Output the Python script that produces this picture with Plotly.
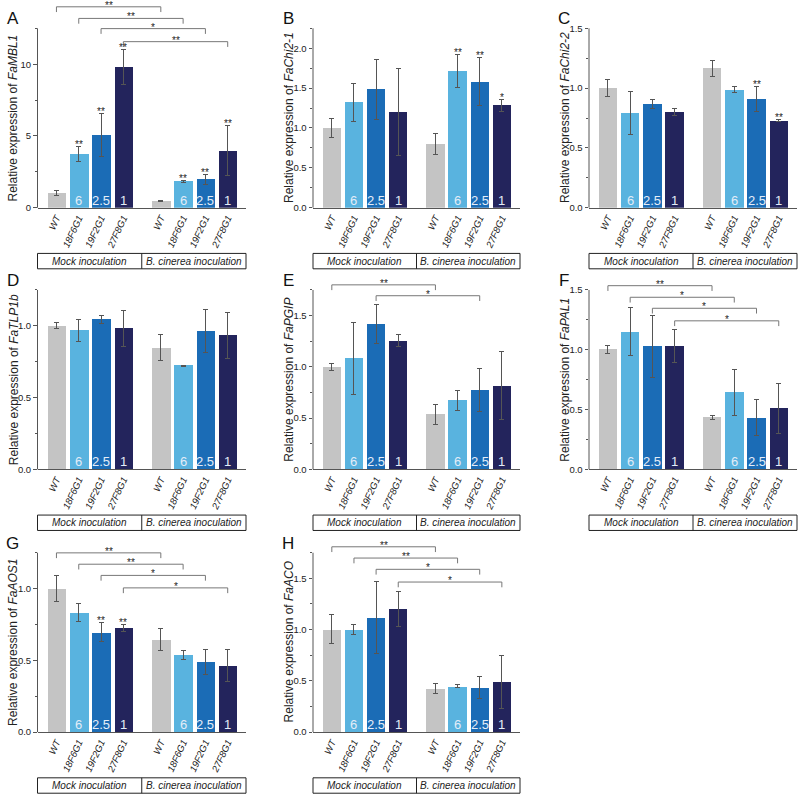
import plotly.graph_objects as go

# ---------------- data ----------------
CATEGORIES = ["WT", "18F6G1", "19F2G1", "27F8G1", "WT", "18F6G1", "19F2G1", "27F8G1"]
POSITIONS = [0, 1, 2, 3, 4.68, 5.68, 6.68, 7.68]
BAR_LABELS = ["", "6", "2.5", "1", "", "6", "2.5", "1"]
GROUPS = ["Mock inoculation", "B. cinerea inoculation"]
LETTERS = ["A", "B", "C", "D", "E", "F", "G", "H"]
GENES = ["FaMBL1", "FaChi2-1", "FaChi2-2", "FaTLP1b", "FaPGIP", "FaPAL1", "FaAOS1", "FaACO"]

A_MEAN = [1.02, 3.75, 5.05, 9.81, 0.46, 1.83, 1.97, 3.98]
A_ERR = [0.15, 0.5, 1.5, 1.2, 0.05, 0.05, 0.35, 1.75]
B_MEAN = [1.0, 1.32, 1.485, 1.2, 0.80, 1.718, 1.58, 1.282]
B_ERR = [0.125, 0.24, 0.38, 0.54, 0.135, 0.205, 0.3, 0.08]
C_MEAN = [1.0, 0.794, 0.866, 0.80, 1.165, 0.985, 0.91, 0.728]
C_ERR = [0.07, 0.18, 0.04, 0.03, 0.07, 0.025, 0.105, 0.01]
D_MEAN = [1.0, 0.968, 1.044, 0.984, 0.847, 0.722, 0.963, 0.935]
D_ERR = [0.02, 0.075, 0.025, 0.125, 0.09, 0.005, 0.15, 0.16]
E_MEAN = [0.996, 1.08, 1.416, 1.254, 0.537, 0.672, 0.77, 0.815]
E_ERR = [0.035, 0.35, 0.19, 0.06, 0.1, 0.095, 0.21, 0.33]
F_MEAN = [1.0, 1.15, 1.028, 1.033, 0.436, 0.644, 0.43, 0.508]
F_ERR = [0.035, 0.2, 0.26, 0.14, 0.015, 0.19, 0.15, 0.21]
G_MEAN = [1.0, 0.832, 0.696, 0.726, 0.647, 0.537, 0.488, 0.465]
G_ERR = [0.09, 0.063, 0.065, 0.025, 0.075, 0.03, 0.09, 0.11]
H_MEAN = [1.003, 1.003, 1.117, 1.2, 0.425, 0.448, 0.435, 0.49]
H_ERR = [0.14, 0.05, 0.35, 0.17, 0.045, 0.015, 0.105, 0.26]

A_STARS = ["", "**", "**", "**", "", "**", "**", "**"]
B_STARS = ["", "", "", "", "", "**", "**", "*"]
C_STARS = ["", "", "", "", "", "", "**", "**"]
D_STARS = [""] * 8
E_STARS = [""] * 8
F_STARS = [""] * 8
G_STARS = ["", "", "**", "**", "", "", "", ""]
H_STARS = [""] * 8

# brackets: (from bar, to bar, level, label)
A_BRACKETS = [(0, 4, 14.0, "**"), (1, 5, 13.19, "**"), (2, 6, 12.48, "*"), (3, 7, 11.57, "**")]
B_BRACKETS = []
C_BRACKETS = []
D_BRACKETS = []
E_BRACKETS = [(0, 4, 1.80, "**"), (2, 6, 1.694, "*")]
F_BRACKETS = [(0, 4, 1.536, "**"), (1, 5, 1.439, "*"), (2, 6, 1.347, "*"), (3, 7, 1.242, "*")]
G_BRACKETS = [(0, 4, 1.249, "**"), (1, 5, 1.17, "**"), (2, 6, 1.092, "*"), (3, 7, 1.005, "*")]
H_BRACKETS = [(0, 4, 1.808, "**"), (1, 5, 1.698, "**"), (2, 6, 1.588, "*"), (3, 7, 1.464, "*")]

AXIS_TOP = [12.5, 2.25, 1.5, 1.25, 1.75, 1.5, 1.25, 1.75]
MAJOR_TICKS = [[0, 5, 10], [0, 0.5, 1.0, 1.5, 2.0], [0, 0.5, 1.0, 1.5], [0, 0.5, 1.0],
               [0, 0.5, 1.0, 1.5], [0, 0.5, 1.0, 1.5], [0, 0.5, 1.0], [0, 0.5, 1.0, 1.5]]
MINOR_TICKS = [[2.5, 7.5, 12.5], [0.25, 0.75, 1.25, 1.75, 2.25], [0.25, 0.75, 1.25],
               [0.25, 0.75, 1.25], [0.25, 0.75, 1.25, 1.75], [0.25, 0.75, 1.25],
               [0.25, 0.75, 1.25], [0.25, 0.75, 1.25, 1.75]]

MEANS = [A_MEAN, B_MEAN, C_MEAN, D_MEAN, E_MEAN, F_MEAN, G_MEAN, H_MEAN]
ERRS = [A_ERR, B_ERR, C_ERR, D_ERR, E_ERR, F_ERR, G_ERR, H_ERR]
STARS = [A_STARS, B_STARS, C_STARS, D_STARS, E_STARS, F_STARS, G_STARS, H_STARS]
BRACKETS = [A_BRACKETS, B_BRACKETS, C_BRACKETS, D_BRACKETS, E_BRACKETS, F_BRACKETS, G_BRACKETS, H_BRACKETS]

# ---------------- style / layout geometry ----------------
COLORS = ["#c4c4c4", "#59b3df", "#1b6cb6", "#23245c"] * 2
W, H = 800, 801
COL_L = [37.5, 313, 589]
COL_R = [246, 520, 797]
ROW_ZERO = [209, 472.3, 736.7]
ROW_TOP = [0, 272, 537]
AXIS_LEN = 180.5
XRANGE = [-0.85, 8.5]
FONT = "Liberation Sans, Arial, sans-serif"
AXC = "#555555"
TXT = "#222222"


def px(x):
    return x / W


def py(y):
    return 1 - y / H


fig = go.Figure()
shapes = []
annotations = []

for k in range(8):
    r, c = divmod(k, 3)
    sfx = "" if k == 0 else str(k + 1)
    xa, ya = "x" + sfx, "y" + sfx
    L, R, Z, T = COL_L[c], COL_R[c], ROW_ZERO[r], ROW_TOP[r]
    ppu = AXIS_LEN / AXIS_TOP[k]
    ymax = (Z - T) / ppu

    fig.add_trace(go.Bar(
        x=POSITIONS, y=MEANS[k], width=0.83,
        marker=dict(color=COLORS, line=dict(width=0)),
        error_y=dict(type="data", array=ERRS[k], color=AXC, thickness=1, width=2.5),
        xaxis=xa, yaxis=ya, showlegend=False, hoverinfo="skip",
    ))

    fmt = "d" if k == 0 else ".1f"
    fig.layout["xaxis" + sfx] = dict(
        domain=[px(L), px(R)], anchor=ya, range=XRANGE,
        showline=True, linecolor=AXC, linewidth=1, ticks="",
        showgrid=False, zeroline=False,
        tickmode="array", tickvals=POSITIONS,
        ticktext=["<i>%s</i>" % s for s in CATEGORIES],
        tickangle=-65, tickfont=dict(family=FONT, size=9.5, color=TXT),
    )
    fig.layout["yaxis" + sfx] = dict(
        domain=[py(Z), py(T)], anchor=xa, range=[0, ymax],
        showline=False, showgrid=False, zeroline=False,
        ticks="outside", ticklen=3.5, tickcolor=AXC, tickwidth=1,
        tickmode="array", tickvals=MAJOR_TICKS[k], tickformat=fmt,
        tickfont=dict(family=FONT, size=9.5, color=TXT),
        minor=dict(tickmode="array", tickvals=MINOR_TICKS[k], ticks="outside",
                   ticklen=2, tickcolor=AXC, tickwidth=1),
    )

    # y axis line only up to the axis top
    shapes.append(dict(type="line", xref="paper", yref="paper",
                       x0=px(L), x1=px(L), y0=py(Z), y1=py(Z - AXIS_LEN),
                       line=dict(color=AXC, width=1)))

    # bar inner labels
    for p, lab in zip(POSITIONS, BAR_LABELS):
        if lab:
            annotations.append(dict(x=p, y=0, xref=xa, yref=ya, text=lab,
                                    showarrow=False, xanchor="center", yanchor="bottom", yshift=-2,
                                    font=dict(family=FONT, size=13, color="#e4edf8")))
    # significance stars on bars
    for p, m, e, s in zip(POSITIONS, MEANS[k], ERRS[k], STARS[k]):
        if s:
            annotations.append(dict(x=p, y=m + e, xref=xa, yref=ya, text=s,
                                    showarrow=False, xanchor="center", yanchor="bottom", yshift=-5.5,
                                    font=dict(family=FONT, size=10, color=TXT)))
    # brackets
    leg = 5.3 / ppu
    for i, j, lvl, lab in BRACKETS[k]:
        x0, x1 = POSITIONS[i], POSITIONS[j]
        shapes.append(dict(type="path", xref=xa, yref=ya,
                           path="M %f,%f L %f,%f L %f,%f L %f,%f" % (x0, lvl - leg, x0, lvl, x1, lvl, x1, lvl - leg),
                           line=dict(color="#777777", width=1)))
        annotations.append(dict(x=(x0 + x1) / 2, y=lvl, xref=xa, yref=ya, text=lab,
                                showarrow=False, xanchor="center", yanchor="bottom", yshift=-6,
                                font=dict(family=FONT, size=10, color=TXT)))

    # panel letter
    annotations.append(dict(x=px(L - 25), y=py(Z - 190), xref="paper", yref="paper",
                            text=LETTERS[k], showarrow=False, xanchor="center", yanchor="middle",
                            font=dict(family=FONT, size=17, color="#111111")))
    # y title
    annotations.append(dict(x=px(L - 24), y=py(Z - AXIS_LEN / 2), xref="paper", yref="paper",
                            text="Relative expression of <i>%s</i>" % GENES[k], textangle=-90,
                            showarrow=False, xanchor="center", yanchor="middle",
                            font=dict(family=FONT, size=12, color=TXT)))

    # group box
    bt, bb = Z + 46, Z + 61.5
    mid = (L + R) / 2
    shapes.append(dict(type="rect", xref="paper", yref="paper",
                       x0=px(L), x1=px(R), y0=py(bb), y1=py(bt),
                       line=dict(color="#222222", width=1)))
    shapes.append(dict(type="line", xref="paper", yref="paper",
                       x0=px(mid), x1=px(mid), y0=py(bb), y1=py(bt),
                       line=dict(color="#222222", width=1)))
    for gx, g in zip([(L + mid) / 2, (mid + R) / 2], GROUPS):
        annotations.append(dict(x=px(gx), y=py((bt + bb) / 2), xref="paper", yref="paper",
                                text="<i>%s</i>" % g, showarrow=False,
                                xanchor="center", yanchor="middle",
                                font=dict(family=FONT, size=10, color=TXT)))

fig.update_layout(
    width=W, height=H, margin=dict(l=0, r=0, t=0, b=0),
    paper_bgcolor="white", plot_bgcolor="white",
    shapes=shapes, annotations=annotations, bargap=0,
)

fig.write_html("out.html", config={"displayModeBar": False},
               post_script="document.body.style.margin='0px';")
